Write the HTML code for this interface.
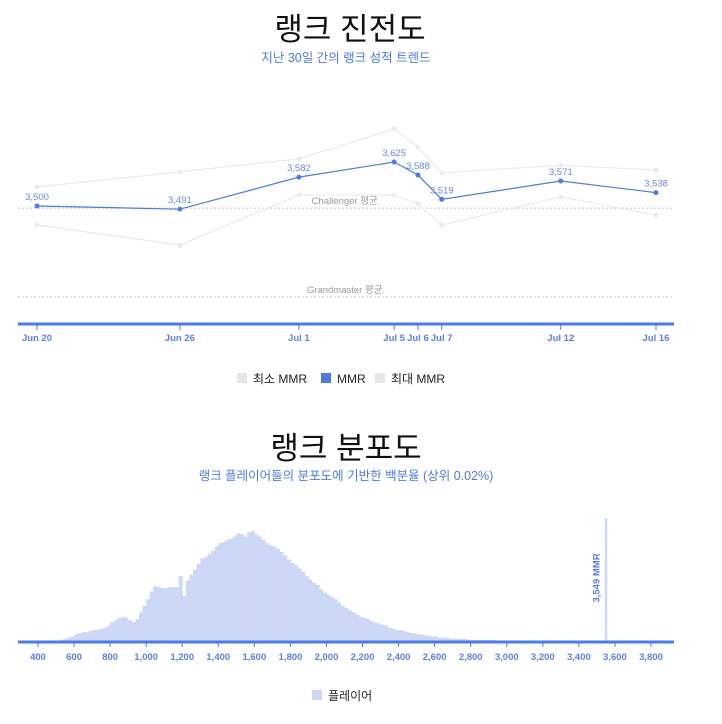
<!DOCTYPE html>
<html><head><meta charset="utf-8">
<style>
body{margin:0;background:#fff;font-family:"Liberation Sans","Noto Sans CJK KR",sans-serif;}
svg{display:block}
</style></head>
<body>
<svg id="s" width="722" height="724" xmlns="http://www.w3.org/2000/svg" font-family="Liberation Sans, Noto Sans CJK KR, sans-serif">
<text x="350" y="40" font-size="31" text-anchor="middle" fill="#111">랭크 진전도</text>
<text x="346" y="62" font-size="12.5" text-anchor="middle" fill="#4a7be8">지난 30일 간의 랭크 성적 트렌드</text>
<g id="c1"></g>
<g font-size="12" fill="#222">
<rect x="237" y="373" width="10" height="10" fill="#e6e6e6"/><text x="253" y="383">최소 MMR</text>
<rect x="321" y="373" width="10" height="10" fill="#4a7be8"/><text x="337" y="383">MMR</text>
<rect x="375" y="373" width="10" height="10" fill="#e6e6e6"/><text x="391" y="383">최대 MMR</text>
</g>
<text x="346" y="459" font-size="31" text-anchor="middle" fill="#111">랭크 분포도</text>
<text x="346" y="480" font-size="12.5" text-anchor="middle" fill="#4a7be8">랭크 플레이어들의 분포도에 기반한 백분율 (상위 0.02%)</text>
<g id="c2"></g>
<g>
<rect x="312" y="690" width="10" height="10" fill="#cdd7f6"/><text x="328" y="700" font-size="12" fill="#222">플레이어</text>
</g>
</svg>
<script>
const dayLabels=["Jun 20","Jun 26","Jul 1","Jul 5","Jul 6","Jul 7","Jul 12","Jul 16"];
const dayIndex=[0,6,11,15,16,17,22,26];
const mmr=[3500,3491,3582,3625,3588,3519,3571,3538];
const maxMmr=[3554,3597,3634,3719,3668,3594,3616,3602];
const minMmr=[3446,3389,3531,3531,3506,3446,3526,3474];
const refNames=["Challenger 평균.","Grandmaster 평균."];
const refValues=[3494,3242];

const binStart=[];for(let v=500;v<=2920;v+=20)binStart.push(v);
const binCounts=[0,1,2,3,4,6,7,8,8,9,10,10,11,12,14,17,19,21,22,21,19,17,20,26,32,38,45,50,49,48,48,49,49,49,59,41,55,60,65,70,75,76,79,82,86,89,90,92,93,95,98,97,95,99,100,97,95,92,89,87,86,84,81,78,74,71,69,66,63,59,56,53,51,47,44,42,40,38,35,32,30,28,26,24,22,21,20,18,17,16,15,14,12,11,10,10,9,8,7,7,6,6,5,5,4,4,3,3,3,2,2,2,2,2,1,1,1,1,1,1,1,1,0];
const xTicks=[400,600,800,1000,1200,1400,1600,1800,2000,2200,2400,2600,2800,3000,3200,3400,3600,3800];
const playerMmr=3549;

const NS="http://www.w3.org/2000/svg";
function mk(p,t,a){const e=document.createElementNS(NS,t);for(const k in a)e.setAttribute(k,a[k]);p.appendChild(e);return e;}
const fmt=v=>v.toLocaleString("en-US");

// chart 1
const c1=document.getElementById("c1");
const x1=d=>37+d*(656-37)/26;
const y1=v=>206-(v-3500)*0.352;
refValues.forEach((v,i)=>{
 const l=mk(c1,"line",{x1:18,x2:674,y1:y1(v),y2:y1(v),stroke:"#c8c8c8","stroke-dasharray":"2,2"});
 
 
 const t=mk(c1,"text",{x:346,y:y1(v)-4,"font-size":9.5,fill:"#999","text-anchor":"middle"});t.textContent=refNames[i];
 
 
});
[[maxMmr,"#ebebeb","max"],[minMmr,"#ebebeb","min"],[mmr,"#4a7be8","mmr"]].forEach(([arr,col,nm])=>{
 const p=mk(c1,"polyline",{points:arr.map((v,i)=>x1(dayIndex[i])+","+y1(v)).join(" "),fill:"none",stroke:col,"stroke-width":1.2});
 
 
 arr.forEach((v,i)=>{
  const c=mk(c1,"circle",{cx:x1(dayIndex[i]),cy:y1(v),r:2.5,fill:col});
  
  
  if(nm==="mmr"){const t=mk(c1,"text",{x:x1(dayIndex[i]),y:y1(v)-6,"font-size":9.5,fill:"#6a86f0","text-anchor":"middle"});t.textContent=fmt(v);
   
   }
 });
});
const ax1=mk(c1,"line",{x1:18,x2:674,y1:324,y2:324,stroke:"#4a7be8","stroke-width":3});


dayIndex.forEach((d,i)=>{
 const tk=mk(c1,"line",{x1:x1(d),x2:x1(d),y1:325,y2:330,stroke:"#4a7be8"});
 
 
 const t=mk(c1,"text",{x:x1(d),y:341,"font-size":9.5,"font-weight":"bold",fill:"#5b7fe6","text-anchor":"middle"});t.textContent=dayLabels[i];
 
 
});

// chart 2
const c2=document.getElementById("c2");
const x2=v=>38+(v-400)*(651-38)/3400;
const base=641, hScale=1.1;
binStart.forEach((v,i)=>{
 if(!binCounts[i])return;
 const h=binCounts[i]*hScale;
 const r=mk(c2,"rect",{x:x2(v),y:base-h,width:x2(v+20)-x2(v)+0.3,height:h,fill:"#cdd7f6"});
 
 
});
const pl=mk(c2,"rect",{x:x2(playerMmr)-1,y:518,width:2.5,height:base-518,fill:"#cdd7f6"});


const pt=mk(c2,"text",{x:0,y:0,"font-size":9.5,"font-weight":"bold",fill:"#5b7fe6","text-anchor":"middle",transform:`translate(${x2(playerMmr)-6},578) rotate(-90)`});pt.textContent=fmt(playerMmr)+" MMR";


const ax2=mk(c2,"line",{x1:18,x2:674,y1:642,y2:642,stroke:"#4a7be8","stroke-width":3});


xTicks.forEach(v=>{
 const tk=mk(c2,"line",{x1:x2(v),x2:x2(v),y1:643,y2:647,stroke:"#4a7be8"});
 
 
 const t=mk(c2,"text",{x:x2(v),y:660,"font-size":9.5,"font-weight":"bold",fill:"#5b7fe6","text-anchor":"middle"});t.textContent=fmt(v);
 
 
});
</script>
</body></html>
